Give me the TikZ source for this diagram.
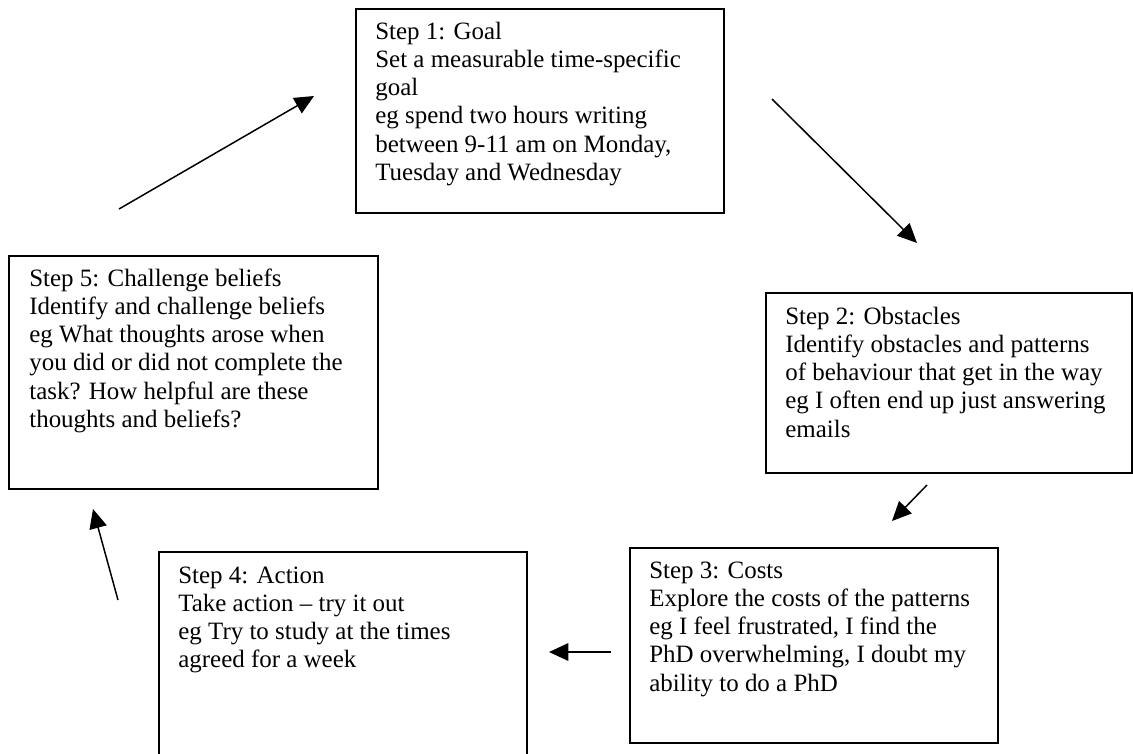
\documentclass[tikz,border=0pt]{standalone}
\usepackage{fontspec}
\setmainfont{Liberation Serif}
\usetikzlibrary{arrows.meta}

\begin{document}
\begin{tikzpicture}[%
      x=0.02cm, y=-0.02cm,
      stepbox/.style={draw, line width=0.95pt, anchor=north west, inner sep=0pt, minimum width=7.36cm},
      steptext/.style={anchor=base west, inner sep=0pt, font=\fontsize{14.2pt}{16.1pt}\selectfont},
      flow/.style={line width=0.85pt, -{Triangle[length=11pt,width=10pt]}},
      ]
      \useasboundingbox (0,0) rectangle (1133,754);

      \node [stepbox, minimum height=4.08cm] (goal) at (355,8) {};
      \node [stepbox, minimum width=7.32cm, minimum height=3.60cm] (obst) at (765,292) {};
      \node [stepbox, minimum height=3.90cm] (costs) at (629,547) {};
      \node [stepbox, minimum height=4.10cm] (action) at (158,551) {};
      \node [stepbox, minimum width=7.38cm, minimum height=4.66cm] (beliefs) at (8,255) {};

      \node [steptext] (goaltext) at ([shift={(20,31)}]goal.north west)
        {\begin{tabular}[t]{@{}l@{}}Step 1: Goal\\Set a measurable time-specific\\goal\\eg spend two hours writing\\between 9-11 am on Monday,\\Tuesday and Wednesday\end{tabular}};
      \node [steptext] (obsttext) at ([shift={(20,32)}]obst.north west)
        {\begin{tabular}[t]{@{}l@{}}Step 2: Obstacles\\Identify obstacles and patterns\\of behaviour that get in the way\\eg I often end up just answering\\emails\end{tabular}};
      \node [steptext] (coststext) at ([shift={(20,31)}]costs.north west)
        {\begin{tabular}[t]{@{}l@{}}Step 3: Costs\\Explore the costs of the patterns\\eg I feel frustrated, I find the\\PhD overwhelming, I doubt my\\ability to do a PhD\end{tabular}};
      \node [steptext] (actiontext) at ([shift={(20,32)}]action.north west)
        {\begin{tabular}[t]{@{}l@{}}Step 4: Action\\Take action -- try it out\\eg Try to study at the times\\agreed for a week\end{tabular}};
      \node [steptext] (beliefstext) at ([shift={(21,31)}]beliefs.north west)
        {\begin{tabular}[t]{@{}l@{}}Step 5: Challenge beliefs\\Identify and challenge beliefs\\eg What thoughts arose when\\you did or did not complete the\\task? How helpful are these\\thoughts and beliefs?\end{tabular}};

      \coordinate (beliefsout) at (119,209);
      \coordinate (goalin) at (314,96);
      \coordinate (goalout) at (772,99);
      \coordinate (obstin) at (917,243);
      \coordinate (obstout) at (927,485);
      \coordinate (costsin) at (892,521);
      \coordinate (costsout) at (611,652);
      \coordinate (actionin) at (549,652);
      \coordinate (actionout) at (118,600);
      \coordinate (beliefsin) at (93,509);

      \draw [flow] (beliefsout) -- (goalin);
      \draw [flow] (goalout) -- (obstin);
      \draw [flow] (obstout) -- (costsin);
      \draw [flow] (costsout) -- (actionin);
      \draw [flow] (actionout) -- (beliefsin);
\end{tikzpicture}
\end{document}
